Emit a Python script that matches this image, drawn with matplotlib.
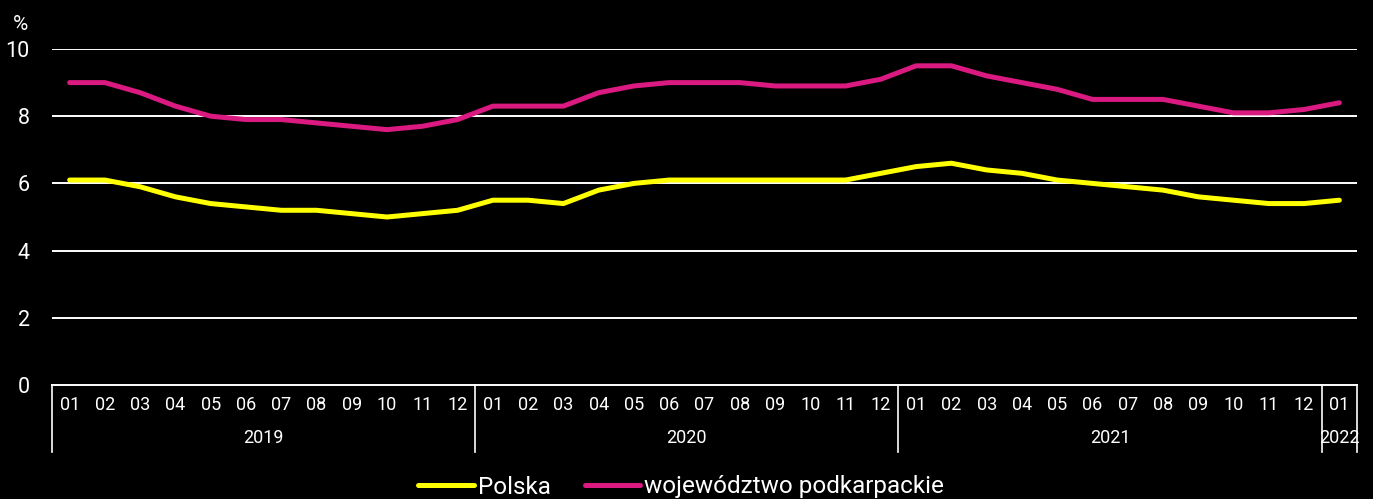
import matplotlib
matplotlib.use('Agg')
import matplotlib.pyplot as plt
import matplotlib.transforms as mtransforms

plt.rcParams['font.family'] = ['Roboto', 'DejaVu Sans']

months = ['01', '02', '03', '04', '05', '06', '07', '08', '09', '10', '11', '12'] * 3 + ['01']
years = ['2019', '2020', '2021', '2022']
year_len = [12, 12, 12, 1]

polska = [6.1, 6.1, 5.9, 5.6, 5.4, 5.3, 5.2, 5.2, 5.1, 5.0, 5.1, 5.2,
          5.5, 5.5, 5.4, 5.8, 6.0, 6.1, 6.1, 6.1, 6.1, 6.1, 6.1, 6.3,
          6.5, 6.6, 6.4, 6.3, 6.1, 6.0, 5.9, 5.8, 5.6, 5.5, 5.4, 5.4,
          5.5]
podkarpackie = [9.0, 9.0, 8.7, 8.3, 8.0, 7.9, 7.9, 7.8, 7.7, 7.6, 7.7, 7.9,
                8.3, 8.3, 8.3, 8.7, 8.9, 9.0, 9.0, 9.0, 8.9, 8.9, 8.9, 9.1,
                9.5, 9.5, 9.2, 9.0, 8.8, 8.5, 8.5, 8.5, 8.3, 8.1, 8.1, 8.2,
                8.4]
yticks = [0, 2, 4, 6, 8, 10]

W, H = 1373, 499
fig = plt.figure(figsize=(W / 100, H / 100), dpi=100, facecolor='black')
ax = fig.add_axes([52 / W, 1 - 385 / H, (1357 - 52) / W, (385 - 49) / H])
ax.set_facecolor('black')

x = list(range(len(months)))
for v in yticks[1:]:
    ax.axhline(v, color='white', lw=1.4, zorder=1)
ax.plot(x, polska, color='#FFFF00', lw=3.6, solid_capstyle='round', label='Polska', zorder=3)
ax.plot(x, podkarpackie, color='#DA1A80', lw=3.6, solid_capstyle='round',
        label='województwo podkarpackie', zorder=3)

ax.set_xlim(-0.5, len(months) - 0.5)
ax.set_ylim(0, 10)
ax.set_yticks(yticks)
ax.set_xticks(x)
ax.set_xticklabels(months)
ax.tick_params(axis='x', length=0, colors='white', labelsize=13, pad=8)
ax.tick_params(axis='y', length=0, colors='white', labelsize=15.5, pad=16)
for s in ['top', 'right', 'left']:
    ax.spines[s].set_visible(False)
ax.spines['bottom'].set_color('white')
ax.spines['bottom'].set_linewidth(1.4)

trans = mtransforms.blended_transform_factory(ax.transData, ax.transAxes)
sep_bottom = -(452 - 385) / (385 - 49)
start = -0.5
edges = [start]
for name, n in zip(years, year_len):
    end = start + n
    ax.text((start + end) / 2, -(438 - 385) / (385 - 49), name, transform=trans,
            ha='center', va='center', color='white', fontsize=13)
    start = end
    edges.append(end)
for e in edges:
    ax.plot([e, e], [0, sep_bottom], transform=trans, color='white', lw=1.2, clip_on=False)

fig.text(20 / W, 1 - 24 / H, '%', color='white', fontsize=15, ha='center', va='center')

leg = fig.legend(loc='center', bbox_to_anchor=(681 / W, 1 - 487 / H), ncol=2, frameon=False,
                 fontsize=17.5, handlelength=2.3, columnspacing=1.4, handletextpad=0.15,
                 borderpad=0, borderaxespad=0)
for t in leg.get_texts():
    t.set_color('white')

fig.savefig('out.png', dpi=100, facecolor='black')
